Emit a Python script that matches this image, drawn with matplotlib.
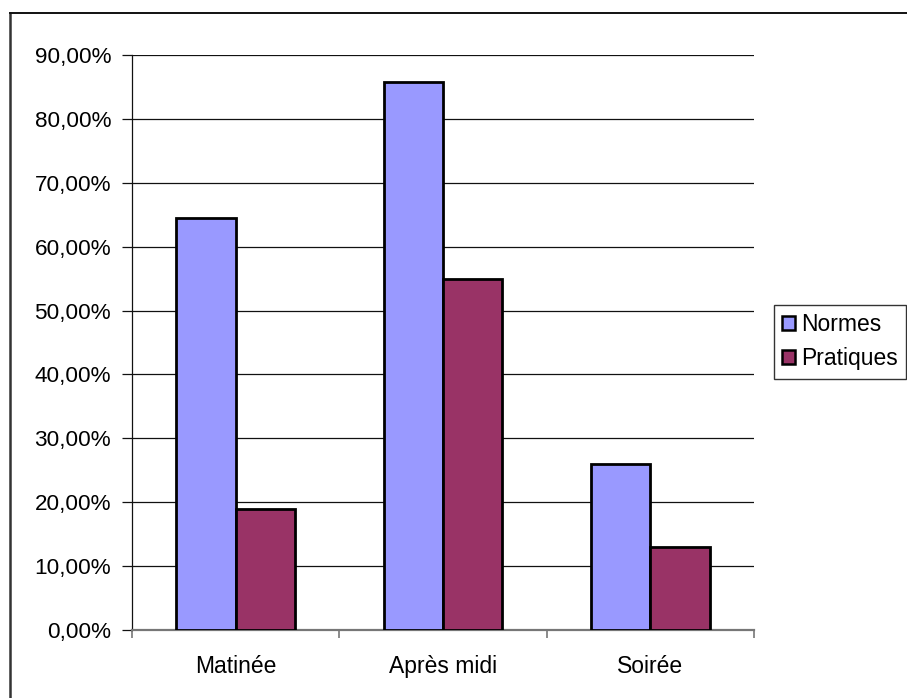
import matplotlib
matplotlib.use("Agg")
import matplotlib.pyplot as plt
from matplotlib.lines import Line2D
from matplotlib.ticker import FuncFormatter, MultipleLocator
import numpy as np

plt.rcParams['font.family'] = ['Liberation Sans', 'DejaVu Sans']

categories = ["Matinée", "Après midi", "Soirée"]
normes = [0.645, 0.857, 0.26]
pratiques = [0.19, 0.55, 0.13]
series_names = ["Normes", "Pratiques"]
colors = ["#9999FF", "#993366"]

W, H = 907, 698
fig = plt.figure(figsize=(W / 100, H / 100), dpi=100)
ax = fig.add_axes([132 / W, 1 - 630 / H, (754 - 132) / W, (630 - 55) / H])

x = np.arange(len(categories))
bw = 1 / 3.5
ax.bar(x - bw / 2, normes, bw, color=colors[0], edgecolor="black", linewidth=2.0,
       label=series_names[0], zorder=3)
ax.bar(x + bw / 2, pratiques, bw, color=colors[1], edgecolor="black", linewidth=2.0,
       label=series_names[1], zorder=3)

ax.set_xlim(-0.5, 2.5)
ax.set_ylim(0, 0.9)
ax.yaxis.set_major_locator(MultipleLocator(0.1))
ax.yaxis.set_major_formatter(FuncFormatter(lambda v, p: f"{v * 100:.2f}%".replace(".", ",")))
ax.yaxis.grid(True, color="#111111", linewidth=0.9, zorder=0)
ax.set_axisbelow(True)

ax.set_xticks([-0.5, 0.5, 1.5, 2.5])
ax.set_xticklabels([])
ax.set_xticks(x, minor=True)
ax.set_xticklabels(categories, minor=True)
ax.tick_params(axis="x", which="minor", length=0, pad=18, labelsize=16.5)
ax.tick_params(axis="x", which="major", length=6, width=1.2, color="#777777")
ax.tick_params(axis="y", length=7, width=0.9, pad=8, labelsize=16.2, color="#111111")

for s in ("top", "right"):
    ax.spines[s].set_visible(False)
ax.spines["left"].set_color("#111111")
ax.spines["left"].set_linewidth(0.9)
ax.spines["bottom"].set_color("#777777")
ax.spines["bottom"].set_linewidth(1.6)

leg = fig.legend(loc="upper left", bbox_to_anchor=(774 / W, 1 - 305 / H),
                 fontsize=16.5, frameon=True, fancybox=False, edgecolor="black",
                 handlelength=0.55, handleheight=0.55, handletextpad=0.3,
                 borderpad=0.35, labelspacing=0.5, borderaxespad=0)
leg.get_frame().set_linewidth(1.0)
for h in leg.legend_handles:
    h.set_linewidth(1.8)

# outer chart border (left and top edges)
fig.add_artist(Line2D([10 / W, 10 / W], [0, 1 - 13 / H], transform=fig.transFigure,
                      color="#333333", linewidth=1.8))
fig.add_artist(Line2D([10 / W, 1], [1 - 13 / H, 1 - 13 / H], transform=fig.transFigure,
                      color="#111111", linewidth=1.4))

fig.savefig("out.png", dpi=100)
